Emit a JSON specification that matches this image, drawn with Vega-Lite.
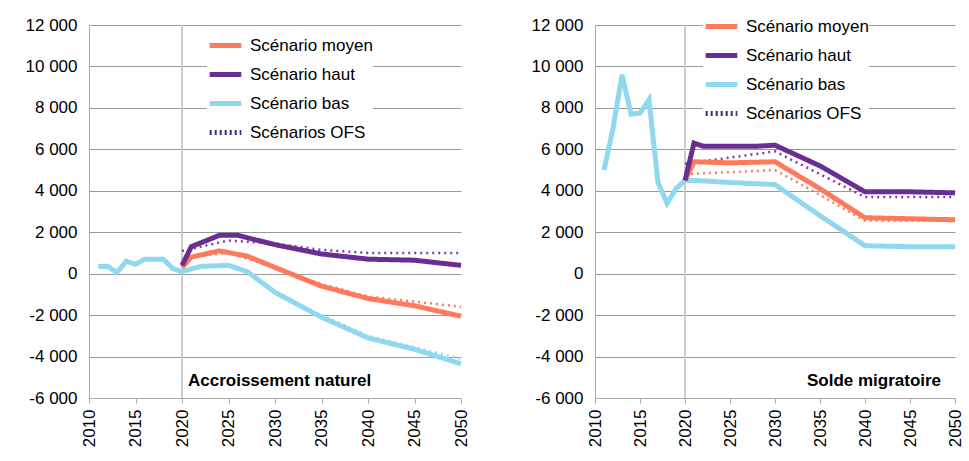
{
  "$schema": "https://vega.github.io/schema/vega-lite/v6.json",
  "padding": {"left": 25, "top": 8, "right": 5, "bottom": 0},
  "config": {
    "font": "Liberation Sans",
    "view": {"stroke": null},
    "axis": {"labelFontSize": 17, "labelColor": "#000", "domainColor": "#aaa", "tickColor": "#aaa", "gridColor": "#999", "title": null},
    "legend": {"labelFontSize": 17, "labelColor": "#000", "symbolStrokeWidth": 5, "symbolSize": 1000, "symbolType": "stroke", "title": null, "fillColor": "white", "rowPadding": -8, "labelLimit": 300, "labelOffset": 6}
  },
  "datasets": {
    "nat": [
      {"yr": 2011, "v": 350, "s": "Scénario bas"}, {"yr": 2012, "v": 350, "s": "Scénario bas"}, {"yr": 2013, "v": 50, "s": "Scénario bas"},
      {"yr": 2014, "v": 600, "s": "Scénario bas"}, {"yr": 2015, "v": 450, "s": "Scénario bas"}, {"yr": 2016, "v": 700, "s": "Scénario bas"},
      {"yr": 2017, "v": 700, "s": "Scénario bas"}, {"yr": 2018, "v": 700, "s": "Scénario bas"}, {"yr": 2019, "v": 250, "s": "Scénario bas"},
      {"yr": 2020, "v": 100, "s": "Scénario bas"}, {"yr": 2022, "v": 350, "s": "Scénario bas"}, {"yr": 2025, "v": 400, "s": "Scénario bas"},
      {"yr": 2027, "v": 100, "s": "Scénario bas"}, {"yr": 2030, "v": -900, "s": "Scénario bas"}, {"yr": 2035, "v": -2100, "s": "Scénario bas"},
      {"yr": 2040, "v": -3100, "s": "Scénario bas"}, {"yr": 2045, "v": -3650, "s": "Scénario bas"}, {"yr": 2050, "v": -4350, "s": "Scénario bas"},
      {"yr": 2020, "v": 300, "s": "Scénario moyen"}, {"yr": 2021, "v": 800, "s": "Scénario moyen"}, {"yr": 2024, "v": 1100, "s": "Scénario moyen"},
      {"yr": 2027, "v": 850, "s": "Scénario moyen"}, {"yr": 2030, "v": 300, "s": "Scénario moyen"}, {"yr": 2035, "v": -600, "s": "Scénario moyen"},
      {"yr": 2040, "v": -1200, "s": "Scénario moyen"}, {"yr": 2045, "v": -1550, "s": "Scénario moyen"}, {"yr": 2050, "v": -2050, "s": "Scénario moyen"},
      {"yr": 2020, "v": 400, "s": "Scénario  haut"}, {"yr": 2021, "v": 1300, "s": "Scénario  haut"}, {"yr": 2024, "v": 1850, "s": "Scénario  haut"},
      {"yr": 2026, "v": 1850, "s": "Scénario  haut"}, {"yr": 2030, "v": 1400, "s": "Scénario  haut"}, {"yr": 2035, "v": 950, "s": "Scénario  haut"},
      {"yr": 2040, "v": 700, "s": "Scénario  haut"}, {"yr": 2045, "v": 650, "s": "Scénario  haut"}, {"yr": 2050, "v": 400, "s": "Scénario  haut"}
    ],
    "natofs": [
      {"yr": 2020, "v": 1100, "c": "#7a3fa0", "g": "h"}, {"yr": 2025, "v": 1600, "c": "#7a3fa0", "g": "h"}, {"yr": 2030, "v": 1450, "c": "#7a3fa0", "g": "h"},
      {"yr": 2035, "v": 1150, "c": "#7a3fa0", "g": "h"}, {"yr": 2040, "v": 1000, "c": "#7a3fa0", "g": "h"}, {"yr": 2050, "v": 1000, "c": "#7a3fa0", "g": "h"},
      {"yr": 2021, "v": 800, "c": "#ff7a5c", "g": "m"}, {"yr": 2025, "v": 1000, "c": "#ff7a5c", "g": "m"}, {"yr": 2030, "v": 300, "c": "#ff7a5c", "g": "m"},
      {"yr": 2035, "v": -500, "c": "#ff7a5c", "g": "m"}, {"yr": 2040, "v": -1100, "c": "#ff7a5c", "g": "m"}, {"yr": 2045, "v": -1350, "c": "#ff7a5c", "g": "m"},
      {"yr": 2050, "v": -1600, "c": "#ff7a5c", "g": "m"},
      {"yr": 2035, "v": -2000, "c": "#8fd8f0", "g": "b"}, {"yr": 2040, "v": -3000, "c": "#8fd8f0", "g": "b"}, {"yr": 2045, "v": -3550, "c": "#8fd8f0", "g": "b"},
      {"yr": 2050, "v": -4100, "c": "#8fd8f0", "g": "b"}
    ],
    "mig": [
      {"yr": 2011, "v": 5000, "s": "Scénario bas"}, {"yr": 2012, "v": 7000, "s": "Scénario bas"}, {"yr": 2013, "v": 9600, "s": "Scénario bas"},
      {"yr": 2014, "v": 7700, "s": "Scénario bas"}, {"yr": 2015, "v": 7750, "s": "Scénario bas"}, {"yr": 2016, "v": 8400, "s": "Scénario bas"},
      {"yr": 2017, "v": 4400, "s": "Scénario bas"}, {"yr": 2018, "v": 3400, "s": "Scénario bas"}, {"yr": 2019, "v": 4100, "s": "Scénario bas"},
      {"yr": 2020, "v": 4500, "s": "Scénario bas"}, {"yr": 2021, "v": 4500, "s": "Scénario bas"}, {"yr": 2025, "v": 4400, "s": "Scénario bas"},
      {"yr": 2030, "v": 4300, "s": "Scénario bas"}, {"yr": 2035, "v": 2800, "s": "Scénario bas"}, {"yr": 2040, "v": 1350, "s": "Scénario bas"},
      {"yr": 2045, "v": 1300, "s": "Scénario bas"}, {"yr": 2050, "v": 1300, "s": "Scénario bas"},
      {"yr": 2020, "v": 4500, "s": "Scénario moyen"}, {"yr": 2021, "v": 5400, "s": "Scénario moyen"}, {"yr": 2025, "v": 5350, "s": "Scénario moyen"},
      {"yr": 2030, "v": 5400, "s": "Scénario moyen"}, {"yr": 2035, "v": 4100, "s": "Scénario moyen"}, {"yr": 2040, "v": 2700, "s": "Scénario moyen"},
      {"yr": 2045, "v": 2650, "s": "Scénario moyen"}, {"yr": 2050, "v": 2600, "s": "Scénario moyen"},
      {"yr": 2020, "v": 4500, "s": "Scénario  haut"}, {"yr": 2021, "v": 6300, "s": "Scénario  haut"}, {"yr": 2022, "v": 6150, "s": "Scénario  haut"},
      {"yr": 2028, "v": 6150, "s": "Scénario  haut"}, {"yr": 2030, "v": 6200, "s": "Scénario  haut"}, {"yr": 2035, "v": 5200, "s": "Scénario  haut"},
      {"yr": 2040, "v": 3950, "s": "Scénario  haut"}, {"yr": 2045, "v": 3950, "s": "Scénario  haut"}, {"yr": 2050, "v": 3900, "s": "Scénario  haut"}
    ],
    "migofs": [
      {"yr": 2020, "v": 5300, "c": "#7a3fa0", "g": "h"}, {"yr": 2025, "v": 5600, "c": "#7a3fa0", "g": "h"}, {"yr": 2030, "v": 5900, "c": "#7a3fa0", "g": "h"},
      {"yr": 2035, "v": 4800, "c": "#7a3fa0", "g": "h"}, {"yr": 2040, "v": 3700, "c": "#7a3fa0", "g": "h"}, {"yr": 2050, "v": 3700, "c": "#7a3fa0", "g": "h"},
      {"yr": 2020, "v": 4800, "c": "#ff7a5c", "g": "m"}, {"yr": 2025, "v": 4900, "c": "#ff7a5c", "g": "m"}, {"yr": 2030, "v": 5000, "c": "#ff7a5c", "g": "m"},
      {"yr": 2035, "v": 3800, "c": "#ff7a5c", "g": "m"}, {"yr": 2040, "v": 2550, "c": "#ff7a5c", "g": "m"}, {"yr": 2050, "v": 2550, "c": "#ff7a5c", "g": "m"}
    ]
  },
  "hconcat": [
    {
      "width": 372, "height": 373,
      "encoding": {
        "x": {"field": "yr", "type": "quantitative", "scale": {"domain": [2010, 2050], "nice": false, "zero": false}, "axis": {"values": [2010, 2015, 2020, 2025, 2030, 2035, 2040, 2045, 2050], "labelAngle": -90, "grid": false, "format": "d", "labelPadding": 6}},
        "y": {"field": "v", "type": "quantitative", "scale": {"domain": [-6000, 12000], "nice": false}, "axis": {"values": [-6000, -4000, -2000, 0, 2000, 4000, 6000, 8000, 10000, 12000], "labelExpr": "replace(replace(format(datum.value, ','), ',', ' '), '−', '-')", "grid": true, "ticks": false, "labelPadding": 12}}
      },
      "layer": [
        {"data": {"values": [{"yr": 2020}]}, "mark": {"type": "rule", "color": "#ccc", "strokeWidth": 2}, "encoding": {"y": null}},
        {"data": {"name": "natofs"}, "mark": {"type": "line", "strokeWidth": 2.5, "strokeDash": [2, 4]},
         "encoding": {"detail": {"field": "g"}, "stroke": {"field": "c", "type": "nominal", "scale": null, "legend": null}}},
        {"data": {"name": "nat"}, "mark": {"type": "line", "strokeWidth": 5},
         "encoding": {
           "color": {"field": "s", "type": "nominal", "scale": {"domain": ["Scénario moyen", "Scénario  haut", "Scénario bas", "Scénarios OFS"], "range": ["#ff7a5c", "#6a2d91", "#8fd8f0", "#3c2a6e"]},
             "legend": {"orient": "none", "legendX": 118, "legendY": 2}},
           "strokeDash": {"field": "s", "type": "nominal", "scale": {"domain": ["Scénario moyen", "Scénario  haut", "Scénario bas", "Scénarios OFS"], "range": [[1, 0], [1, 0], [1, 0], [2, 3]]}}
         }},
        {"data": {"values": [{"yr": 2030.5, "v": -5200, "t": "Accroissement naturel"}]}, "mark": {"type": "text", "fontWeight": "bold", "fontSize": 17}, "encoding": {"text": {"field": "t"}}}
      ]
    },
    {
      "width": 360, "height": 373,
      "encoding": {
        "x": {"field": "yr", "type": "quantitative", "scale": {"domain": [2010, 2050], "nice": false, "zero": false}, "axis": {"values": [2010, 2015, 2020, 2025, 2030, 2035, 2040, 2045, 2050], "labelAngle": -90, "grid": false, "format": "d", "labelPadding": 6}},
        "y": {"field": "v", "type": "quantitative", "scale": {"domain": [-6000, 12000], "nice": false}, "axis": {"values": [-6000, -4000, -2000, 0, 2000, 4000, 6000, 8000, 10000, 12000], "labelExpr": "replace(replace(format(datum.value, ','), ',', ' '), '−', '-')", "grid": true, "ticks": false, "labelPadding": 12}}
      },
      "layer": [
        {"data": {"values": [{"yr": 2020}]}, "mark": {"type": "rule", "color": "#ccc", "strokeWidth": 2}, "encoding": {"y": null}},
        {"data": {"name": "migofs"}, "mark": {"type": "line", "strokeWidth": 2.5, "strokeDash": [2, 4]},
         "encoding": {"detail": {"field": "g"}, "stroke": {"field": "c", "type": "nominal", "scale": null, "legend": null}}},
        {"data": {"name": "mig"}, "mark": {"type": "line", "strokeWidth": 5},
         "encoding": {
           "color": {"field": "s", "type": "nominal", "scale": {"domain": ["Scénario moyen", "Scénario  haut", "Scénario bas", "Scénarios OFS"], "range": ["#ff7a5c", "#6a2d91", "#8fd8f0", "#3c2a6e"]},
             "legend": {"orient": "none", "legendX": 108, "legendY": -17}},
           "strokeDash": {"field": "s", "type": "nominal", "scale": {"domain": ["Scénario moyen", "Scénario  haut", "Scénario bas", "Scénarios OFS"], "range": [[1, 0], [1, 0], [1, 0], [2, 3]]}}
         }},
        {"data": {"values": [{"yr": 2041, "v": -5200, "t": "Solde migratoire"}]}, "mark": {"type": "text", "fontWeight": "bold", "fontSize": 17}, "encoding": {"text": {"field": "t"}}}
      ]
    }
  ],
  "resolve": {"scale": {"color": "independent", "strokeDash": "independent", "stroke": "independent"}},
  "spacing": 60
}
